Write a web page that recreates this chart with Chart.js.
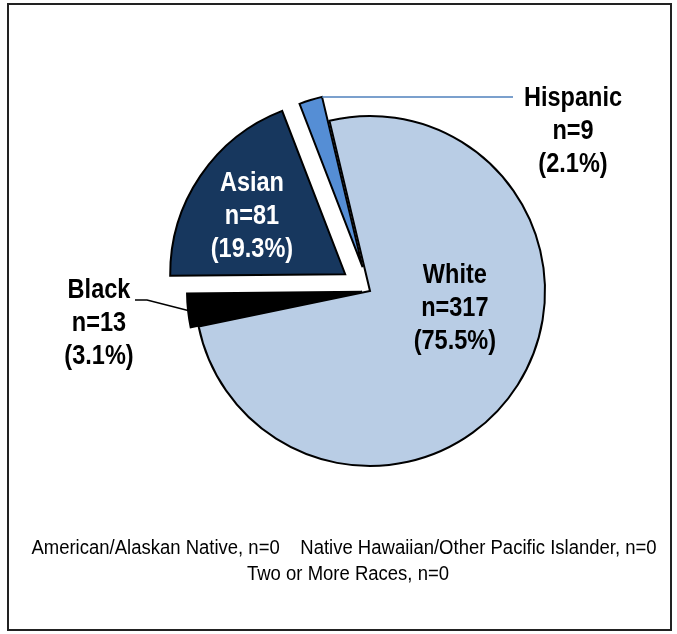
<!DOCTYPE html>
<html>
<head>
<meta charset="utf-8">
<script src="https://cdn.jsdelivr.net/npm/chart.js@4"></script>
<style>
  html, body { margin: 0; padding: 0; background: #fff; }
  .chart-box { position: relative; width: 677px; height: 634px; }
</style>
</head>
<body>
<div class="chart-box"><canvas id="myChart"></canvas></div>
<script>
/** Chart data **/
const categories = ["White", "Black", "Asian", "Hispanic"];
const counts = [317, 13, 81, 9];
const percents = ["75.5", "3.1", "19.3", "2.1"];
const zeroGroups = ["American/Alaskan Native", "Native Hawaiian/Other Pacific Islander", "Two or More Races"];
const zeroCounts = [0, 0, 0];

/** Styles **/
const sliceColors = ["#b9cde5", "#000000", "#17375e", "#558ed5"];
const labelFont = "bold 28px 'Liberation Sans', Arial, sans-serif";
const noteFont = "20px 'Liberation Sans', Arial, sans-serif";

//  No narrow face installed, so squeeze the text sideways
function narrowText(ctx, text, x, y, sx) {
  ctx.save();
  ctx.translate(x, y);
  ctx.scale(sx, 1);
  ctx.fillText(text, 0, 0);
  ctx.restore();
}

//  Push exploded slices out by moving each arc's own center
const explodePlugin = {
  id: "explode",
  afterUpdate(chart, args, opts) {
    const arcs = chart.getDatasetMeta(0).data;
    arcs.forEach((arc, i) => {
      const d = opts.distances[i] || 0;
      const mid = (arc.startAngle + arc.endAngle) / 2;
      arc.x += Math.cos(mid) * d;
      arc.y += Math.sin(mid) * d;
    });
  },
};

//  Draw slice labels, leader lines, frame and note under the pie
const labelPlugin = {
  id: "sliceLabels",
  beforeDraw(chart) {
    const ctx = chart.ctx;
    ctx.save();
    ctx.strokeStyle = "#222";
    ctx.lineWidth = 2;
    ctx.strokeRect(8, 4, 663, 626);
    ctx.restore();
  },
  afterDatasetsDraw(chart, args, opts) {
    const ctx = chart.ctx;
    const arcs = chart.getDatasetMeta(0).data;
    ctx.save();
    ctx.font = labelFont;
    ctx.textAlign = "center";
    ctx.textBaseline = "middle";

    arcs.forEach((arc, i) => {
      const lab = opts.labels[i];
      const lines = [categories[i], "n=" + counts[i], "(" + percents[i] + "%)"];
      const mid = (arc.startAngle + arc.endAngle) / 2;
      let cx, cy;
      if (lab.inside) {
        cx = arc.x + Math.cos(mid) * arc.outerRadius * lab.frac + lab.dx;
        cy = arc.y + Math.sin(mid) * arc.outerRadius * lab.frac + lab.dy;
      } else {
        cx = lab.x;
        cy = lab.y;
        //  Leader line from the slice edge to the label
        const a = lab.edge === "end" ? arc.endAngle : mid;
        const px = arc.x + Math.cos(a) * arc.outerRadius;
        const py = arc.y + Math.sin(a) * arc.outerRadius;
        ctx.beginPath();
        ctx.strokeStyle = lab.lineColor;
        ctx.lineWidth = lab.lineWidth;
        ctx.moveTo(px, py);
        lab.path.forEach((p) => ctx.lineTo(p[0], p[1] === null ? py : p[1]));
        ctx.stroke();
      }
      ctx.fillStyle = lab.color;
      lines.forEach((t, k) => narrowText(ctx, t, cx, cy + (k - 1) * lab.gap, opts.squeeze));
    });

    //  Groups with no members, listed under the pie
    ctx.font = noteFont;
    ctx.fillStyle = "#000";
    const notes = zeroGroups.map((g, i) => g + ", n=" + zeroCounts[i]);
    narrowText(ctx, notes[0] + "    " + notes[1], 344, 548, 0.925);
    narrowText(ctx, notes[2], 348, 574, 0.925);
    ctx.restore();
  },
};

const ctx = document.getElementById("myChart");

let myChart = new Chart(ctx, {
  type: "pie",
  data: {
    labels: categories,
    datasets: [
      {
        data: counts,
        backgroundColor: sliceColors,
        borderColor: "#000000",
        borderWidth: 2,
        borderJoinStyle: "miter",
      },
    ],
  },
  options: {
    responsive: true,
    maintainAspectRatio: false,
    animation: false,
    events: [],
    rotation: -13.4,
    radius: 175,
    layout: { padding: { left: 63, right: 0, top: 0, bottom: 52 } },
    plugins: {
      legend: { display: false },
      tooltip: { enabled: false },
      explode: { distances: [0, 8, 30, 25] },
      sliceLabels: {
        squeeze: 0.84,
        labels: [
          { inside: true, frac: 0.5, dx: 11, dy: -30, color: "#000", gap: 33 },
          {
            inside: false, x: 99, y: 323, color: "#000", gap: 33,
            edge: "mid", lineColor: "#000", lineWidth: 1.5,
            path: [[147, 300], [135, 300]],
          },
          { inside: true, frac: 0.63, dx: -2, dy: 4, color: "#fff", gap: 33 },
          {
            inside: false, x: 573, y: 131, color: "#000", gap: 33,
            edge: "end", lineColor: "#4f81bd", lineWidth: 1.5,
            path: [[513, null]],
          },
        ],
      },
    },
  },
  plugins: [explodePlugin, labelPlugin],
});
</script>
</body>
</html>
